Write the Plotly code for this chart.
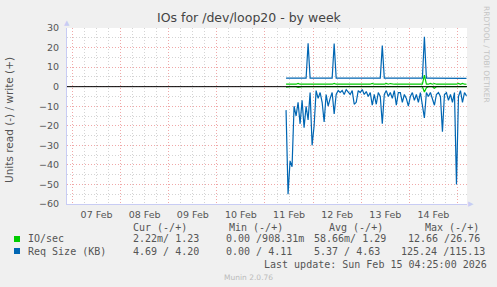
import plotly.graph_objects as go
import pandas as pd

# ---------------- data ----------------
times = pd.date_range("2026-02-11 10:30", periods=91, freq="h")

req_write = [4.4] * 11 + [22.2] + [4.4] * 12 + [22.0] + [4.4] * 23 + [21.0] + [4.4] * 20 + [25.5] + [4.4] * 20 + [4.2]
req_read = [12, 55, 38, 41, 10, 15, 8, 19, 7, 21, 10, 17, 3, 30, 20, 2, 6, 3, 8, 18,
            4, 10, 6, 3, 14, 4, 2, 3, 2, 4, 1.5, 3, 4, 2, 9, 8, 2, 3, 1.5, 4,
            2.5, 5, 3, 9.5, 4, 9, 3, 5, 19, 4, 2, 5, 3, 6, 2, 9.5, 3, 3, 8, 4,
            6, 10, 5, 3, 7, 4, 8, 3, 9.5, 16, 3, 5, 3, 6, 9.5, 4, 3, 5, 23, 4,
            3, 7, 4, 8, 3, 50, 5, 2, 8, 3, 4.69]
io_write = [1.25, 1.25, 1.25, 1.25, 1.25, 1.25, 1.7, 1.25, 1.25, 1.25,
            1.25, 1.25, 1.25, 1.25, 1.25, 1.25, 1.25, 1.25, 1.25, 1.25,
            1.25, 1.25, 1.25, 1.25, 1.7, 1.25, 1.25, 1.25, 1.25, 1.25,
            1.25, 1.25, 1.25, 1.25, 1.25, 1.25, 1.25, 1.25, 1.25, 1.25,
            1.25, 1.25, 1.25, 1.7, 1.25, 1.25, 1.25, 1.25, 1.6, 1.25,
            1.7, 1.25, 1.6, 1.25, 1.25, 1.25, 1.25, 1.25, 1.25, 1.25,
            1.25, 1.25, 1.25, 1.25, 1.25, 1.25, 1.25, 1.25, 1.25, 5.9,
            1.25, 1.25, 1.7, 1.25, 1.6, 1.25, 1.25, 1.25, 1.25, 1.25,
            1.25, 1.25, 1.25, 1.25, 1.25, 1.25, 1.7, 1.25, 1.7, 1.25, 1.23]
io_read = [0.3, 0, 0, 0, 0, 0, 0.4, 0, 0, 0,
           0, 0, 0, 0, 0, 0, 0, 0, 0, 0,
           0, 0, 0, 0, 0, 0, 0, 0, 0, 0,
           0, 0, 0, 0, 0, 0, 0, 0, 0, 0,
           0, 0, 0, 0, 0, 0, 0, 0, 0, 0,
           0, 0, 0, 0, 0, 0, 0, 0, 0, 0,
           0, 0, 0, 0, 0, 0, 0, 0, 0, 2.7,
           0.5, 0, 0, 0, 0.8, 0, 0, 0, 0, 0,
           0, 0, 0, 0, 0, 0, 0, 0, 0, 0, 0.00222]

x_range = ["2026-02-06 21:15", "2026-02-15 04:45"]
y_range = [-60, 30]

title = "IOs for /dev/loop20 - by week"
y_title = "Units read (-) / write (+)"
series_names = ["IO/sec", "Req Size (KB)"]
header = ["Cur (-/+)", "Min (-/+)", "Avg (-/+)", "Max (-/+)"]
io_stats = ["2.22m/ 1.23", "0.00 /908.31m", "58.66m/ 1.29", "12.66 /26.76"]
req_stats = ["4.69 / 4.20", "0.00 / 4.11", "5.37 / 4.63", "125.24 /115.13"]
last_update = "Last update: Sun Feb 15 04:25:00 2026"
version = "Munin 2.0.76"
watermark = "RRDTOOL / TOBI OETIKER"

GREEN = "#00CC00"
BLUE = "#0066B3"

# ---------------- figure ----------------
fig = go.Figure()
fig.add_trace(go.Scatter(x=times, y=[-v for v in io_read], mode="lines",
                         line=dict(color=GREEN, width=1.2), hoverinfo="skip"))
fig.add_trace(go.Scatter(x=times, y=io_write, mode="lines",
                         line=dict(color=GREEN, width=1.2), hoverinfo="skip"))
fig.add_trace(go.Scatter(x=times, y=[-v for v in req_read], mode="lines",
                         line=dict(color=BLUE, width=1.2), hoverinfo="skip"))
fig.add_trace(go.Scatter(x=times, y=req_write, mode="lines",
                         line=dict(color=BLUE, width=1.2), hoverinfo="skip"))

L, R, T, B = 67, 30, 28, 83
W, H = 497, 287
PW, PH = W - L - R, H - T - B


def P(px, py):
    return (px - L) / PW, (H - B - py) / PH


MAJ = "#F0A8A8"
MIN = "#D4D4D4"
AX = "#C8CCF4"
DOT = "1px,2px"

fig.update_layout(
    width=W, height=H,
    margin=dict(l=L, r=R, t=T, b=B),
    paper_bgcolor="#F0F0F0", plot_bgcolor="#FFFFFF",
    showlegend=False,
    font=dict(family="DejaVu Sans", color="#555555"),
    xaxis=dict(type="date", range=x_range, tickformat="%d %b", dtick=86400000,
               tick0="2026-02-07", ticklabelmode="period",
               showgrid=True, gridcolor=MAJ, griddash=DOT, gridwidth=1,
               minor=dict(dtick=21600000, showgrid=True, gridcolor=MIN, griddash=DOT),
               showline=True, linecolor=AX, linewidth=1, ticks="", zeroline=False,
               tickfont=dict(size=9.5, color="#555555"), ticklabelstandoff=2),
    yaxis=dict(range=y_range, dtick=10, showgrid=True, gridcolor=MAJ, griddash=DOT,
               minor=dict(dtick=5, showgrid=True, gridcolor=MIN, griddash=DOT),
               zeroline=False,
               showline=True, linecolor=AX, linewidth=1, ticks="",
               tickfont=dict(size=9.5, color="#555555"), ticklabelstandoff=5),
)

ann = []


def text(px, py, s, size=10, color="#555555", family="DejaVu Sans Mono",
         xanchor="left", angle=0):
    x, y = P(px, py)
    ann.append(dict(x=x, y=y, xref="paper", yref="paper", text=s, showarrow=False,
                    xanchor=xanchor, yanchor="middle", textangle=angle,
                    font=dict(size=size, color=color, family=family)))


text(249, 18, title, size=12.5, color="#444444", family="DejaVu Sans", xanchor="center")
text(9, 120, y_title, size=10.5, color="#555555", family="DejaVu Sans", xanchor="center", angle=-90)
text(487, 54, watermark, size=7.5, color="#C4C4C4", family="DejaVu Sans", xanchor="center", angle=90)

cols = [131, 227, 327, 423]
for c, h in zip(cols, header):
    text(c, 227, h)
text(26, 239, series_names[0])
text(26, 251, series_names[1])
io_x = [131, 224, 312, 406]
req_x = [131, 224, 312, 399]
for c, s in zip(io_x, io_stats):
    text(c, 239, s)
for c, s in zip(req_x, req_stats):
    text(c, 251, s)
text(262, 264, last_update)
text(248, 277, version, size=7.5, color="#BBBBBB", family="DejaVu Sans", xanchor="center")

# axis arrow heads
text(67, 23, "▲", size=7, color=AX, family="DejaVu Sans", xanchor="center")
text(471, 204, "▶", size=7, color=AX, family="DejaVu Sans", xanchor="center")

fig.update_layout(annotations=ann)

shapes = []
for py, col in [(239, GREEN), (251, BLUE)]:
    x0, y0 = P(14, py - 3)
    x1, y1 = P(20, py + 3)
    shapes.append(dict(type="rect", xref="paper", yref="paper", x0=x0, x1=x1, y0=y1, y1=y0,
                       fillcolor=col, line=dict(width=0)))
# black zero rule drawn over the series, as rrdtool does
shapes.append(dict(type="line", xref="paper", yref="y", x0=0, x1=1, y0=0, y1=0,
                   line=dict(color="#000000", width=1), layer="above"))
fig.update_layout(shapes=shapes)

fig.write_html("out.html")
